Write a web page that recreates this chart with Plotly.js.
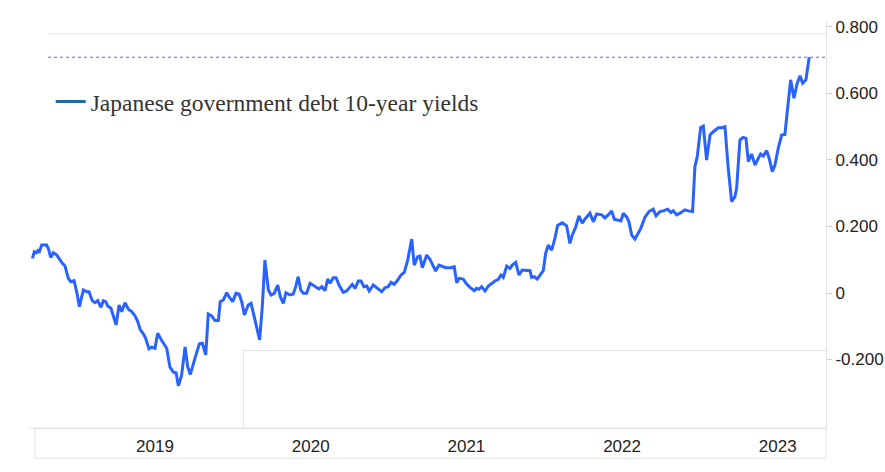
<!DOCTYPE html>
<html>
<head>
<meta charset="utf-8">
<script src="https://cdn.plot.ly/plotly-3.0.1.min.js"></script>
<style>
html,body{margin:0;padding:0;background:#fff;}
#chart{width:885px;height:472px;}
</style>
</head>
<body>
<div id="chart"></div>
<script>
// Decimal-year positions of the weekly observations
const years = [
2018.212,2018.225,2018.236,2018.247,2018.255,2018.272,2018.304,2018.315,2018.330,2018.347,
2018.369,2018.390,2018.405,2018.422,2018.443,2018.459,2018.480,2018.499,2018.514,2018.540,
2018.561,2018.576,2018.597,2018.615,2018.632,2018.653,2018.668,2018.683,2018.696,2018.717,
2018.732,2018.750,2018.769,2018.786,2018.807,2018.829,2018.850,2018.872,2018.889,2018.904,
2018.925,2018.940,2018.961,2018.979,2019.000,2019.017,2019.043,2019.075,2019.096,2019.118,
2019.135,2019.150,2019.171,2019.193,2019.210,2019.227,2019.257,2019.285,2019.304,2019.326,
2019.342,2019.364,2019.385,2019.407,2019.419,2019.439,2019.461,2019.475,2019.499,2019.520,
2019.540,2019.557,2019.574,2019.599,2019.617,2019.638,2019.653,2019.672,2019.689,2019.706,
2019.728,2019.745,2019.766,2019.788,2019.805,2019.824,2019.841,2019.856,2019.867,2019.888,
2019.904,2019.920,2019.936,2019.952,2019.974,2019.996,2020.017,2020.039,2020.053,2020.071,
2020.092,2020.109,2020.124,2020.145,2020.163,2020.182,2020.209,2020.231,2020.252,2020.267,
2020.285,2020.306,2020.323,2020.342,2020.360,2020.376,2020.402,2020.424,2020.456,2020.477,
2020.498,2020.516,2020.537,2020.559,2020.580,2020.601,2020.623,2020.649,2020.665,2020.687,
2020.702,2020.717,2020.745,2020.766,2020.787,2020.803,2020.824,2020.845,2020.867,2020.901,
2020.922,2020.938,2020.954,2020.980,2021.002,2021.023,2021.051,2021.066,2021.081,2021.098,
2021.120,2021.141,2021.163,2021.184,2021.205,2021.222,2021.237,2021.259,2021.280,2021.295,
2021.317,2021.338,2021.359,2021.387,2021.409,2021.419,2021.436,2021.455,2021.473,2021.494,
2021.509,2021.526,2021.548,2021.569,2021.586,2021.616,2021.644,2021.665,2021.680,2021.702,
2021.723,2021.744,2021.766,2021.794,2021.815,2021.837,2021.869,2021.890,2021.911,2021.933,
2021.950,2021.980,2021.993,2022.008,2022.030,2022.044,2022.062,2022.083,2022.104,2022.121,
2022.147,2022.173,2022.200,2022.218,2022.243,2022.265,2022.293,2022.314,2022.329,2022.351,
2022.372,2022.404,2022.425,2022.453,2022.468,2022.483,2022.505,2022.522,2022.543,2022.565,
2022.586,2022.618,2022.640,2022.661,2022.682,2022.704,2022.725,2022.736,2022.757,2022.778,
2022.796,2022.811,2022.832,2022.854,2022.875,2022.890,2022.907,2022.929,2022.945,2022.965,
2022.982,2023.003,2023.025,2023.046,2023.061,2023.083,2023.104,2023.125,2023.143,2023.160,
2023.181,2023.202
];

// 10-year JGB yield, percent
const yields = [
0.104,0.124,0.121,0.127,0.121,0.144,0.144,0.134,0.107,0.121,
0.114,0.097,0.089,0.081,0.044,0.034,0.037,-0.001,-0.041,0.009,
0.004,0.004,-0.023,-0.029,-0.023,-0.043,-0.023,-0.026,-0.039,-0.046,
-0.066,-0.096,-0.036,-0.056,-0.029,-0.049,-0.056,-0.069,-0.086,-0.109,
-0.123,-0.136,-0.168,-0.163,-0.166,-0.121,-0.143,-0.166,-0.223,-0.238,
-0.240,-0.279,-0.247,-0.162,-0.222,-0.245,-0.196,-0.153,-0.151,-0.186,
-0.063,-0.069,-0.083,-0.083,-0.026,-0.021,0.001,-0.011,-0.026,-0.001,
-0.003,-0.026,-0.066,-0.036,-0.031,-0.076,-0.106,-0.141,-0.041,0.099,
0.009,-0.006,-0.001,0.024,-0.011,-0.031,0.001,-0.003,-0.006,-0.003,
0.019,0.049,0.009,-0.001,-0.001,0.029,0.022,0.016,0.012,0.019,
0.007,0.042,0.029,0.046,0.046,0.024,0.002,0.006,0.019,0.026,
0.014,0.036,0.036,0.019,0.021,0.006,0.024,0.016,0.004,0.016,
0.019,0.032,0.026,0.039,0.054,0.062,0.099,0.162,0.084,0.109,
0.111,0.076,0.114,0.101,0.081,0.066,0.084,0.079,0.076,0.076,
0.079,0.031,0.044,0.042,0.027,0.017,0.007,0.014,0.011,0.019,
0.006,0.021,0.029,0.036,0.041,0.054,0.047,0.081,0.074,0.084,
0.092,0.054,0.069,0.069,0.067,0.047,0.049,0.042,0.054,0.067,
0.119,0.144,0.129,0.165,0.203,0.211,0.202,0.149,0.174,0.198,
0.232,0.210,0.225,0.240,0.214,0.238,0.235,0.226,0.235,0.247,
0.222,0.220,0.217,0.240,0.228,0.214,0.174,0.162,0.181,0.195,
0.228,0.245,0.252,0.232,0.245,0.247,0.252,0.242,0.247,0.235,
0.240,0.250,0.247,0.245,0.380,0.410,0.498,0.502,0.400,0.475,
0.485,0.497,0.497,0.500,0.375,0.275,0.290,0.315,0.460,0.468,
0.465,0.395,0.418,0.385,0.405,0.418,0.412,0.428,0.405,0.365,
0.385,0.435,0.475,0.477,0.545,0.641,0.586,0.631,0.653,0.631,
0.641,0.709
];

const seriesName = "Japanese government debt 10-year yields";
const yTickVals = [-0.2, 0, 0.2, 0.4, 0.6, 0.8];
const yTickText = ["-0.200", "0", "0.200", "0.400", "0.600", "0.800"];
const xTickVals = [2019, 2020, 2021, 2022, 2023];
const xTickText = ["2019", "2020", "2021", "2022", "2023"];

const lastValue = yields[yields.length - 1];

const traces = [
  {
    x: years, y: yields, type: "scatter", mode: "lines",
    line: {color: "#2962ff", width: 3},
    showlegend: false, hoverinfo: "x+y"
  },
  {
    x: [null], y: [null], type: "scatter", mode: "lines",
    name: seriesName,
    line: {color: "#1f6aa5", width: 3},
    showlegend: true
  }
];

const faint = "#e3e3e3";
const layout = {
  width: 885, height: 472,
  margin: {l: 30, r: 59, t: 20, b: 44, pad: 0},
  paper_bgcolor: "#ffffff", plot_bgcolor: "#ffffff",
  font: {family: "Liberation Sans, Arial, sans-serif", size: 17, color: "#222"},
  xaxis: {
    type: "linear", range: [2018.197, 2023.310],
    tickvals: xTickVals, ticktext: xTickText,
    showgrid: false, zeroline: false,
    showline: true, linecolor: faint, linewidth: 1,
    ticks: "", ticklabelstandoff: 3,
    tickfont: {size: 17, color: "#222"}
  },
  yaxis: {
    side: "right", range: [-0.406, 0.821],
    tickvals: yTickVals, ticktext: yTickText,
    showgrid: false, zeroline: false,
    showline: true, linecolor: faint, linewidth: 1,
    ticks: "outside", ticklen: 5, tickcolor: "#cfcfcf", tickwidth: 1,
    tickfont: {size: 17, color: "#222"}
  },
  legend: {
    x: 0.026, y: 0.80, xanchor: "left", yanchor: "middle",
    bgcolor: "rgba(0,0,0,0)", borderwidth: 0,
    font: {family: "Liberation Serif, Times New Roman, serif", size: 23.5, color: "#333"}
  },
  shapes: [
    {type: "line", xref: "paper", yref: "y", x0: 0.0226, x1: 1, y0: lastValue, y1: lastValue,
     line: {color: "#4a6cf7", width: 1, dash: "dot"}},
    {type: "line", xref: "paper", yref: "paper", x0: 0.0226, x1: 1, y0: 0.966, y1: 0.966,
     line: {color: faint, width: 1}},
    {type: "rect", xref: "paper", yref: "paper", x0: 0.006, x1: 1, y0: -0.074, y1: 0,
     line: {color: faint, width: 1}},
    {type: "line", xref: "paper", yref: "paper", x0: 0.268, x1: 1, y0: 0.19, y1: 0.19,
     line: {color: faint, width: 1}},
    {type: "line", xref: "paper", yref: "paper", x0: 0.268, x1: 0.268, y0: 0, y1: 0.19,
     line: {color: faint, width: 1}}
  ]
};

Plotly.newPlot("chart", traces, layout, {displayModeBar: false, staticPlot: true});
</script>
</body>
</html>
